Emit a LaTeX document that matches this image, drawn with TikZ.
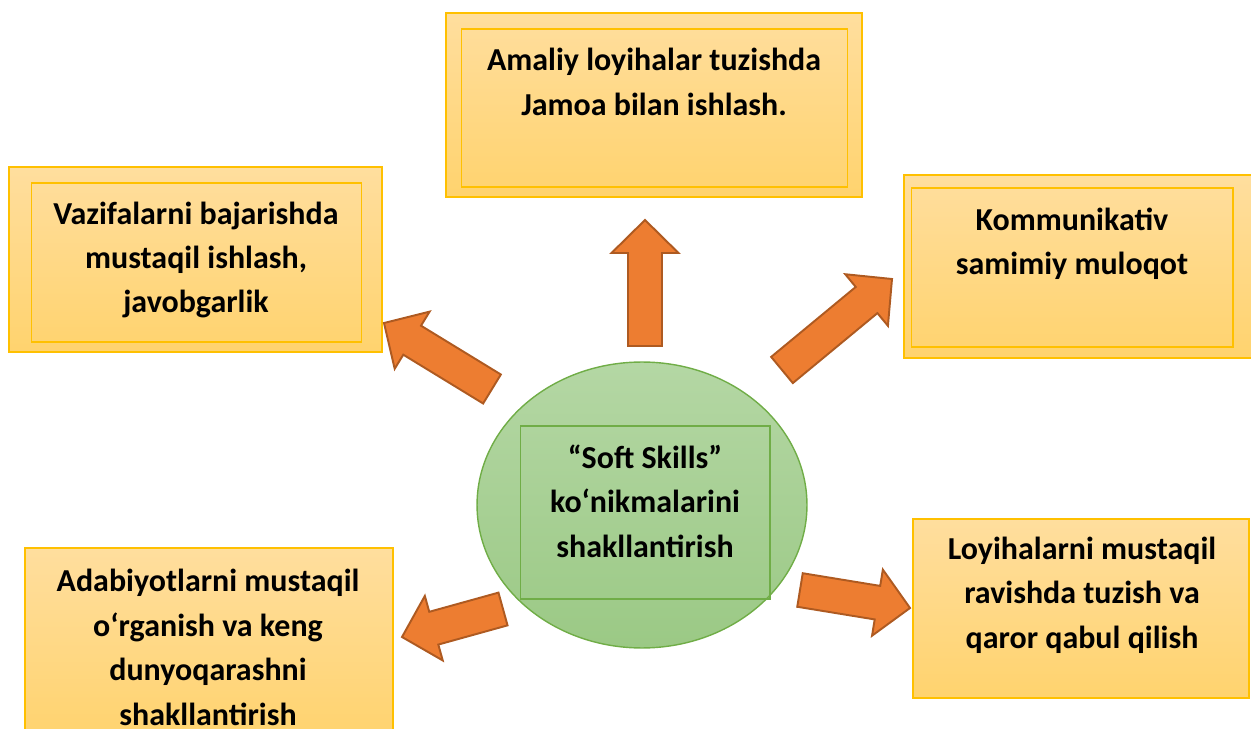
\documentclass[tikz,border=0pt]{standalone}
\usepackage{fontspec}
\setmainfont{Carlito}
\usepackage{tikz}
\usetikzlibrary{positioning, calc, shapes.geometric}

\definecolor{boxTop}{HTML}{FFDE9E}
\definecolor{boxBottom}{HTML}{FFD36E}
\definecolor{boxLine}{HTML}{FFC000}
\definecolor{ovalTop}{HTML}{B4D7A4}
\definecolor{ovalBottom}{HTML}{9BC985}
\definecolor{ovalLine}{HTML}{70AD47}
\definecolor{arrowFill}{HTML}{ED7D31}
\definecolor{arrowLine}{HTML}{AE5A21}

\tikzset{
	outerBox/.style={draw=boxLine, line width=1.1pt, rectangle, top color=boxTop, bottom color=boxBottom, inner sep=0pt},
	innerBox/.style={draw=boxLine, line width=0.6pt, rectangle, inner sep=0pt},
	labelText/.style={align=center, inner sep=0pt, font=\fontsize{18.2pt}{25.3pt}\selectfont\bfseries},
	blockArrow/.style={draw=arrowLine, fill=arrowFill, line width=1.1pt}
}

%block arrow from tail #1 to tip #2
\newcommand{\blockarrow}[2]{%
	\coordinate (#1Base) at ($(#2)!6.6mm!(#1)$);
	\draw[blockArrow] ($(#1)!3.4mm!90:(#2)$) -- ($(#1Base)!3.4mm!90:(#2)$) -- 
	($(#1Base)!6.7mm!90:(#2)$) -- (#2) -- ($(#1Base)!6.7mm!-90:(#2)$) -- 
	($(#1Base)!3.4mm!-90:(#2)$) -- ($(#1)!3.4mm!-90:(#2)$) -- cycle;}

\begin{document}
\begin{tikzpicture}[x=0.02cm, y=-0.02cm]
	
	\useasboundingbox (0,0) rectangle (1251,729);
	\clip (0,0) rectangle (1251,729);
	
	%Top box
	\node (topBox) at (654,105) [outerBox, minimum width=8.32cm, minimum height=3.68cm]{};
	\node (topInner) at (654.5,108) [innerBox, minimum width=7.74cm, minimum height=3.16cm]{};
	\node (topText) at (654,82) [labelText]{Amaliy loyihalar tuzishda\\ Jamoa bilan ishlash.};
	
	%Left top box
	\node (leftBox) at (195.5,259.5) [outerBox, minimum width=7.46cm, minimum height=3.7cm]{};
	\node (leftInner) at (196.5,262.5) [innerBox, minimum width=6.62cm, minimum height=3.18cm]{};
	\node (leftText) at (196,260) [labelText]{Vazifalarni bajarishda\\ mustaqil ishlash,\\ javobgarlik};
	
	%Right top box
	\node (rightBox) at (1081,266.5) [outerBox, minimum width=7.08cm, minimum height=3.66cm]{};
	\node (rightInner) at (1072,267.5) [innerBox, minimum width=6.44cm, minimum height=3.18cm]{};
	\node (rightText) at (1072,243.5) [labelText]{Kommunikativ\\ samimiy muloqot};
	
	%Right bottom box
	\node (projectBox) at (1081,608.5) [outerBox, minimum width=6.72cm, minimum height=3.58cm]{};
	\node (projectText) at (1082,595) [labelText]{Loyihalarni mustaqil\\ ravishda tuzish va\\ qaror qabul qilish};
	
	%Left bottom box
	\node (readingBox) at (209,644) [outerBox, minimum width=7.36cm, minimum height=3.84cm]{};
	\node (readingText) at (208,647.5) [labelText]{Adabiyotlarni mustaqil\\ o‘rganish va keng\\ dunyoqarashni\\ shakllantirish};
	
	%Soft skills
	\node (softSkills) at (642,505) [draw=ovalLine, line width=0.8pt, ellipse, top color=ovalTop, 
	bottom color=ovalBottom, minimum width=6.6cm, minimum height=5.72cm, inner sep=0pt]{};
	\node (softInner) at (645,512.5) [draw=ovalLine, line width=0.6pt, rectangle, 
	minimum width=5cm, minimum height=3.46cm, inner sep=0pt]{};
	\node (softText) at (645,501) [labelText]{“Soft Skills”\\ ko‘nikmalarini\\ shakllantirish};
	
	%Arrow ends
	\coordinate (upTail) at (645,346);
	\coordinate (upTip) at (645,220);
	\coordinate (upRightTail) at (782,370);
	\coordinate (upRightTip) at (892,279);
	\coordinate (upLeftTail) at (492,389);
	\coordinate (upLeftTip) at (384,323);
	\coordinate (downLeftTail) at (503,609);
	\coordinate (downLeftTip) at (402,637);
	\coordinate (downRightTail) at (800,590);
	\coordinate (downRightTip) at (910,608);
	
	%Arrows
	\blockarrow{upTail}{upTip}
	\blockarrow{upRightTail}{upRightTip}
	\blockarrow{upLeftTail}{upLeftTip}
	\blockarrow{downLeftTail}{downLeftTip}
	\blockarrow{downRightTail}{downRightTip}
	
\end{tikzpicture}
\end{document}
